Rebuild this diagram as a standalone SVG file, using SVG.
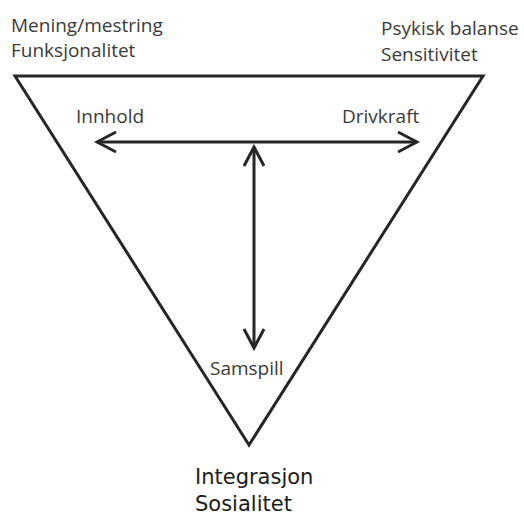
<svg xmlns="http://www.w3.org/2000/svg" width="524" height="516" viewBox="0 0 524 516">
<style>
.lbl{font-family:"Open Sans","Liberation Sans",sans-serif;font-size:19px;fill:#3a3a3a}
.lbl2{font-family:"DejaVu Sans",sans-serif;font-size:21px;fill:#1a1a1a}
.ln{fill:none;stroke:#262626;stroke-width:3}
</style>
<defs>
<marker id="ah" markerWidth="24" markerHeight="24" refX="21" refY="12" orient="auto-start-reverse" markerUnits="userSpaceOnUse">
<path d="M2,2 L21,12 L2,22" fill="none" stroke="#262626" stroke-width="3"/>
</marker>
</defs>
<rect width="524" height="516" fill="#fff"/>
<g id="triangle"><path class="ln" d="M15,76 L483,76 L249,445 Z" stroke-linejoin="miter"/></g>
<g id="connectors">
<line class="ln" x1="97" y1="142" x2="417" y2="142" marker-start="url(#ah)" marker-end="url(#ah)"/>
<line class="ln" x1="254" y1="147" x2="254" y2="348" marker-start="url(#ah)" marker-end="url(#ah)"/>
</g>
<g id="n-mening"><text class="lbl" x="11" y="32">Mening/mestring</text><text class="lbl" x="11" y="57">Funksjonalitet</text></g>
<g id="n-psykisk"><text class="lbl" x="381" y="35">Psykisk balanse</text><text class="lbl" x="381" y="61">Sensitivitet</text></g>
<g id="n-innhold"><text class="lbl" x="76" y="123">Innhold</text></g>
<g id="n-drivkraft"><text class="lbl" x="342" y="123">Drivkraft</text></g>
<g id="n-samspill"><text class="lbl" x="210" y="375">Samspill</text></g>
<g id="n-integrasjon"><text class="lbl2" x="195" y="484">Integrasjon</text><text class="lbl2" x="195" y="511">Sosialitet</text></g>
</svg>
